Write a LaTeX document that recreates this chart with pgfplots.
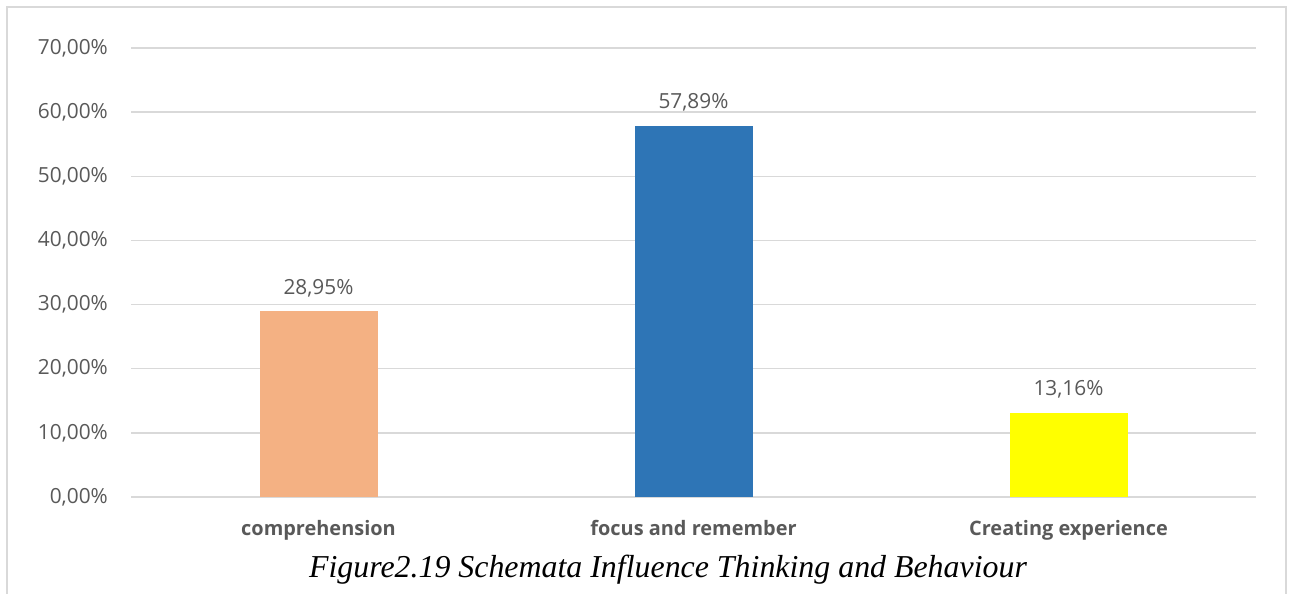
\documentclass[border=0pt]{standalone}
\usepackage{fontspec}
\setmainfont{Open Sans}
\newfontfamily\capfont{Liberation Serif}
\usepackage{pgfplots}
\pgfplotsset{compat=1.18}
\definecolor{gridgray}{HTML}{D9D9D9}
\definecolor{txtgray}{HTML}{595959}
\definecolor{barorange}{HTML}{F4B183}
\definecolor{barblue}{HTML}{2E75B6}
\definecolor{baryellow}{HTML}{FFFF00}
\begin{document}
\begin{tikzpicture}
\useasboundingbox (0,0) rectangle (1293bp,-594bp);
\draw[gridgray, line width=2bp] (7bp,-594bp) -- (7bp,-7bp) -- (1286bp,-7bp) -- (1286bp,-594bp);
\begin{axis}[
  at={(131bp,-497bp)}, anchor=south west,
  scale only axis, width=1125bp, height=449bp,
  xmin=-0.5, xmax=2.5, ymin=0, ymax=70,
  ytick={0,10,20,30,40,50,60,70},
  yticklabels={{0,00\%},{10,00\%},{20,00\%},{30,00\%},{40,00\%},{50,00\%},{60,00\%},{70,00\%}},
  xtick={0,1,2},
  xticklabels={comprehension, focus and remember, Creating experience},
  ymajorgrids, grid style={gridgray, line width=1.3bp},
  axis line style={draw=none}, major tick length=0pt,
  tick label style={font=\fontsize{20.9}{24}\selectfont, text=txtgray},
  yticklabel style={anchor=east, inner sep=0pt, xshift=-23bp},
  xticklabel style={font=\fontsize{20}{24}\selectfont\bfseries, anchor=base, inner sep=0pt, yshift=-38bp},
  ybar, bar width=118bp, bar shift=0pt,
  nodes near coords, point meta=explicit symbolic,
  every node near coord/.append style={font=\fontsize{20.9}{24}\selectfont, text=txtgray, anchor=base, inner sep=0pt, yshift=17bp},
  clip=false,
]
\addplot[fill=barorange, draw=none] coordinates {(0,28.95) [28,95\%]};
\addplot[fill=barblue, draw=none] coordinates {(1,57.89) [57,89\%]};
\addplot[fill=baryellow, draw=none] coordinates {(2,13.16) [13,16\%]};
\end{axis}
\node[anchor=base, inner sep=0pt] at (668bp,-577bp) {\capfont\itshape\fontsize{32}{36}\selectfont Figure2.19 Schemata Influence Thinking and Behaviour};
\end{tikzpicture}
\end{document}
